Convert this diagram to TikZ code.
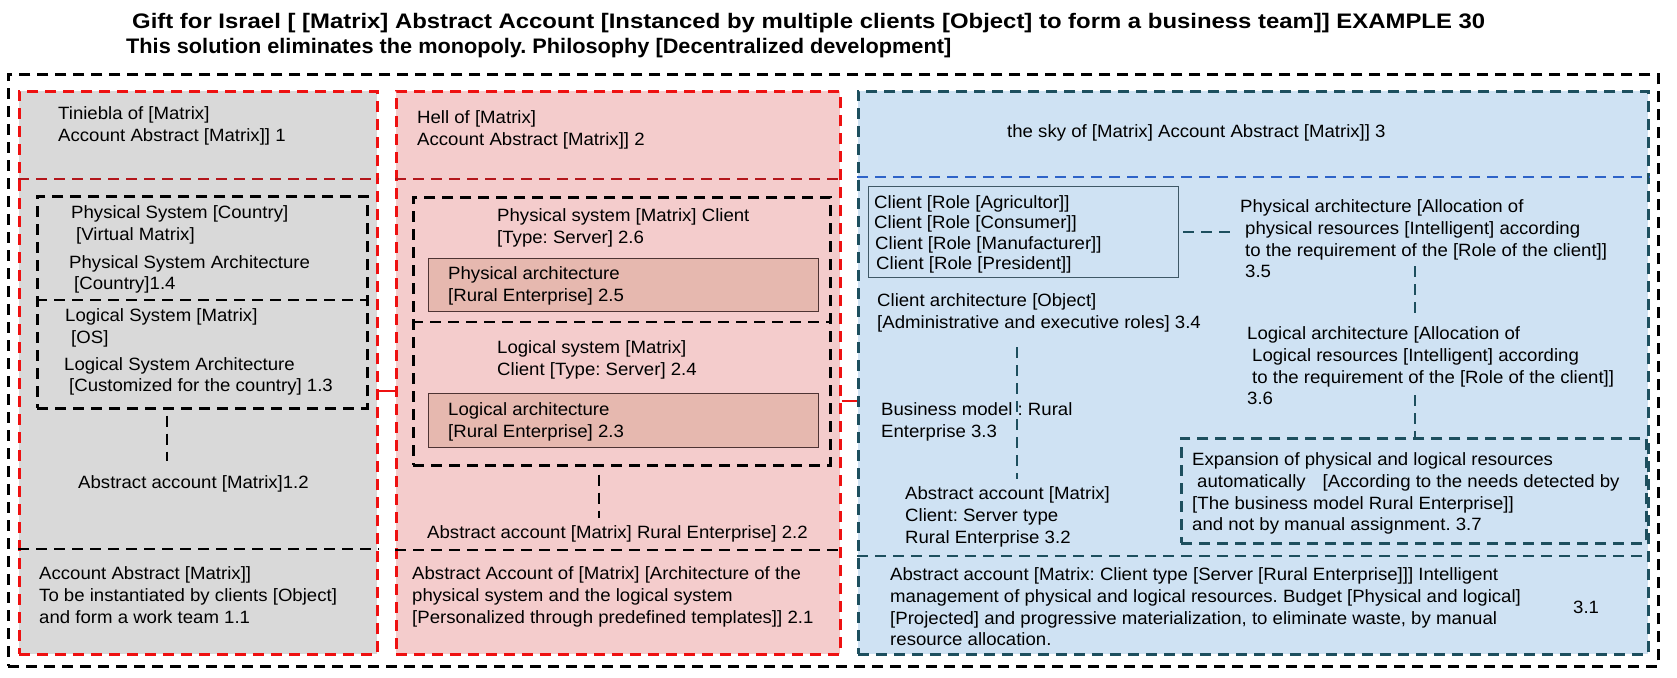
\documentclass[tikz,border=0pt]{standalone}
\usepackage{fontspec}
\setmainfont{Liberation Sans}[FakeStretch=1.045]
\newfontfamily\titlefont{Liberation Sans}
\definecolor{redc}{HTML}{EE1111}
\definecolor{darkredc}{HTML}{B3161B}
\definecolor{tealc}{HTML}{1D4F5E}
\definecolor{bluec}{HTML}{2E63C8}
\definecolor{grayfill}{HTML}{D9D9D9}
\definecolor{pinkfill}{HTML}{F4CCCC}
\definecolor{bluefill}{HTML}{CFE2F3}
\definecolor{pinkdark}{HTML}{E6B8AF}
\definecolor{rolesline}{HTML}{3F5866}
\definecolor{paline}{HTML}{4D3333}
\begin{document}
\frenchspacing
\begin{tikzpicture}[x=1pt,y=-1pt,
  region/.style={inner sep=0pt, anchor=north west},
  txt/.style={inner sep=0pt, anchor=north west, align=left, font=\fontsize{17.8}{21.7}\selectfont\frenchspacing, text=black},
  ttl/.style={inner sep=0pt, anchor=base west, text=black},
  dashpat/.style={line width=2.7pt, dash pattern=on 11pt off 7pt},
  blkdash/.style={dashpat, draw=black},
  reddash/.style={dashpat, draw=redc},
  darkreddash/.style={dashpat, draw=darkredc},
  tealdash/.style={dashpat, draw=tealc},
  bluedash/.style={dashpat, draw=bluec},
  redsolid/.style={draw=redc, line width=2pt},
  thinbox/.style={region, line width=1.1pt},
]
\useasboundingbox (0,0) rectangle (1677,677);
\fill[white] (0,0) rectangle (1677,677);

% title
\node[ttl] (title1) at (132,28.5) {\resizebox{1353pt}{\height}{\titlefont\bfseries\fontsize{21}{25}\selectfont\frenchspacing Gift for Israel [ [Matrix] Abstract Account [Instanced by multiple clients [Object] to form a business team]] EXAMPLE 30}};
\node[ttl] (title2) at (126,53.5) {\resizebox{825pt}{\height}{\titlefont\bfseries\fontsize{21}{25}\selectfont\frenchspacing This solution eliminates the monopoly. Philosophy [Decentralized development]}};

% outer frame and columns
\node[region, blkdash, minimum width=1650pt, minimum height=592pt] (outer) at (7,73) {};
\node[region, reddash, fill=grayfill, minimum width=358pt, minimum height=563pt] (lbox) at (18,90) {};
\node[region, reddash, fill=pinkfill, minimum width=444pt, minimum height=563pt] (mbox) at (395,90) {};
\node[region, tealdash, fill=bluefill, minimum width=790pt, minimum height=563pt] (rbox) at (857,90) {};

% dividers
\draw[darkreddash] (lbox.west |- 0,179) -- (lbox.east |- 0,179);
\draw[darkreddash] (mbox.west |- 0,179) -- (mbox.east |- 0,179);
\draw[bluedash] (rbox.west |- 0,177) -- (rbox.east |- 0,177);
\draw[blkdash] (lbox.west |- 0,549) -- (lbox.east |- 0,549);
\draw[blkdash] (mbox.west |- 0,550) -- (mbox.east |- 0,550);
\draw[tealdash] (rbox.west |- 0,556) -- (rbox.east |- 0,556);

% inner boxes
\node[region, blkdash, minimum width=330pt, minimum height=212pt] (lsys) at (36,195) {};
\draw[blkdash] (lsys.west |- 0,300) -- (lsys.east |- 0,300);
\node[region, blkdash, minimum width=417pt, minimum height=268pt] (msys) at (412,196) {};
\draw[blkdash] (msys.west |- 0,322) -- (msys.east |- 0,322);
\node[thinbox, draw=paline, fill=pinkdark, minimum width=390pt, minimum height=53pt] (pa) at (428,258) {};
\node[thinbox, draw=paline, fill=pinkdark, minimum width=390pt, minimum height=54pt] (la) at (428,393) {};
\node[thinbox, draw=rolesline, minimum width=310pt, minimum height=91pt] (roles) at (868,186) {};
\node[region, tealdash, minimum width=465pt, minimum height=105pt] (exbox) at (1180,437) {};

% left column texts
\node[txt] (t1) at (58,106.5) {Tiniebla of [Matrix]\\Account Abstract [Matrix]] 1};
\node[txt] (t14) at (69,205.5) {\hspace*{2pt}Physical System [Country]\\\hspace*{7pt}[Virtual Matrix]\\[6pt]Physical System Architecture\\\hspace*{5pt}[Country]1.4};
\node[txt] (t13) at (64,308.5) {\hspace*{1pt}Logical System [Matrix]\\\hspace*{7pt}[OS]\\[5pt]Logical System Architecture\\\hspace*{5pt}[Customized for the country] 1.3};
\node[txt] (t12) at (78,475.5) {Abstract account [Matrix]1.2};
\node[txt] (t11) at (39,566.5) {Account Abstract [Matrix]]\\To be instantiated by clients [Object]\\and form a work team 1.1};

% middle column texts
\node[txt] (t2) at (417,110.5) {Hell of [Matrix]\\Account Abstract [Matrix]] 2};
\node[txt] (t26) at (497,208.5) {Physical system [Matrix] Client\\{}[Type: Server] 2.6};
\node[txt] (t25) at (448,266.5) {Physical architecture\\{}[Rural Enterprise] 2.5};
\node[txt] (t24) at (497,340.5) {Logical system [Matrix]\\Client [Type: Server] 2.4};
\node[txt] (t23) at (448,402.5) {Logical architecture\\{}[Rural Enterprise] 2.3};
\node[txt] (t22) at (427,525.5) {Abstract account [Matrix] Rural Enterprise] 2.2};
\node[txt] (t21) at (412,566.5) {Abstract Account of [Matrix] [Architecture of the\\physical system and the logical system\\{}[Personalized through predefined templates]] 2.1};

% right column texts
\node[txt] (t3) at (1007,124.5) {the sky of [Matrix] Account Abstract [Matrix]] 3};
\node[txt, font=\fontsize{17.8}{20.2}\selectfont] (troles) at (874,195.5) {Client [Role [Agricultor]]\\Client [Role [Consumer]]\\\hspace*{1pt}Client [Role [Manufacturer]]\\\hspace*{2pt}Client [Role [President]]};
\node[txt] (t35) at (1240,199.5) {Physical architecture [Allocation of\\\hspace*{5pt}physical resources [Intelligent] according\\\hspace*{5pt}to the requirement of the [Role of the client]]\\\hspace*{5pt}3.5};
\node[txt] (t36) at (1247,326.5) {Logical architecture [Allocation of\\\hspace*{5pt}Logical resources [Intelligent] according\\\hspace*{5pt}to the requirement of the [Role of the client]]\\3.6};
\node[txt] (t34) at (877,293.5) {Client architecture [Object]\\{}[Administrative and executive roles] 3.4};
\node[txt] (t33) at (881,402.5) {Business model : Rural\\Enterprise 3.3};
\node[txt] (t32) at (905,486.5) {Abstract account [Matrix]\\Client: Server type\\Rural Enterprise 3.2};
\node[txt] (t37) at (1192,452.5) {Expansion of physical and logical resources\\\hspace*{5pt}automatically\hspace{17pt}[According to the needs detected by\\{}[The business model Rural Enterprise]]\\and not by manual assignment. 3.7};
\node[txt] (t31) at (890,567.5) {Abstract account [Matrix: Client type [Server [Rural Enterprise]]] Intelligent\\management of physical and logical resources. Budget [Physical and logical]\\{}[Projected] and progressive materialization, to eliminate waste, by manual\\resource allocation.};
\node[txt] (t31n) at (1573,600.5) {3.1};

% connectors
\draw[redsolid] (lbox.east |- 0,391) -- (mbox.west |- 0,391);
\draw[redsolid] (mbox.east |- 0,401) -- (rbox.west |- 0,401);
\draw[blkdash, shorten <=6pt, shorten >=15pt] (lsys.south -| 167,0) -- (t12.north -| 167,0);
\draw[blkdash, shorten <=8pt, shorten >=8pt] (msys.south -| 599,0) -- (t22.north -| 599,0);
\draw[tealdash, shorten <=4pt, shorten >=5pt] (roles.east |- 0,232) -- (t35.west |- 0,232);
\draw[tealdash, shorten <=-12pt, shorten >=9pt] (t35.south -| 1415,0) -- (t36.north -| 1415,0);
\draw[tealdash, shorten <=-10pt] (t36.south -| 1415,0) -- (exbox.north -| 1415,0);
\draw[tealdash, shorten <=15pt, shorten >=8pt] (t34.south -| 1017,0) -- (t32.north -| 1017,0);
\end{tikzpicture}
\end{document}
